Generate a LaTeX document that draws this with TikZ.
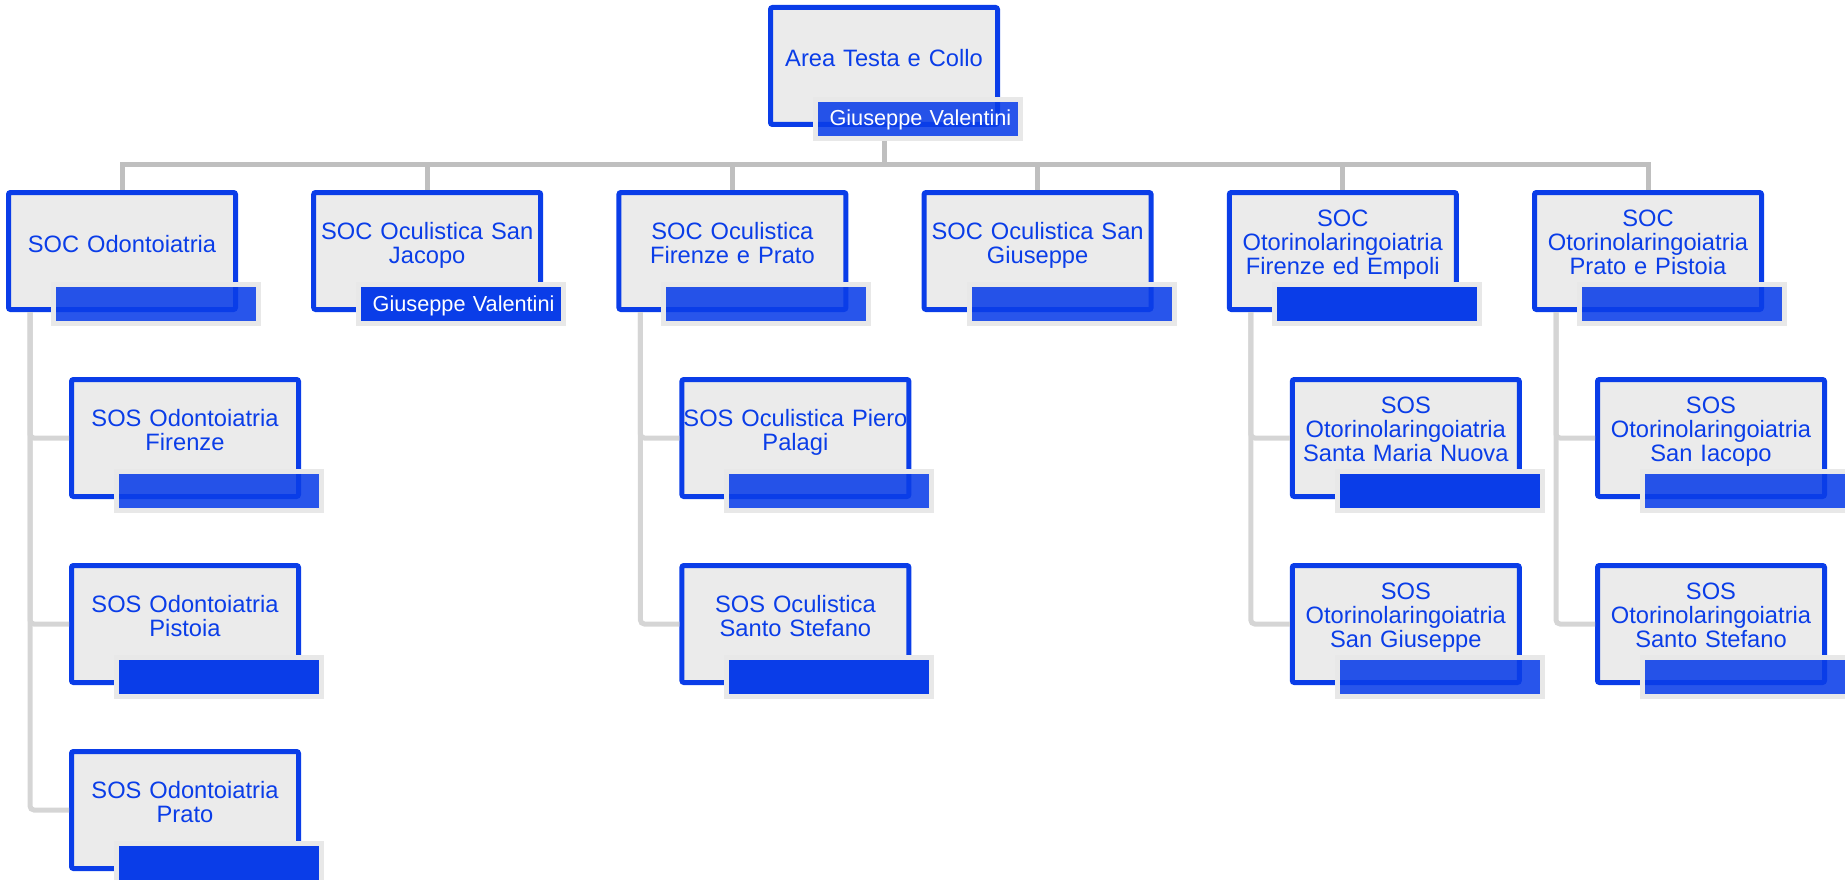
\documentclass[tikz,border=0pt]{standalone}
\usepackage{fontspec}
\setmainfont{Liberation Sans}
\definecolor{orgblue}{HTML}{0A3DE8}
\definecolor{orgfill}{HTML}{EBEBEB}
\definecolor{orgbarline}{HTML}{E8E8E8}
\definecolor{orgtopline}{HTML}{BFBFBF}
\definecolor{orgsubline}{HTML}{D5D5D5}
\newcommand\orgtextstyle{\fontsize{23.7}{24.3}\selectfont}
\newcommand\orgbarstyle{\fontsize{21.7}{24}\selectfont}
\tikzset{
  unitbox/.style={draw=orgblue, fill=orgfill, line width=5pt, rounded corners=2pt,
    minimum width=227pt, minimum height=117pt, inner sep=0pt, anchor=north west},
  unittext/.style={text=orgblue, font=\orgtextstyle, text width=232pt, align=center,
    inner sep=0pt, anchor=base},
  namebar/.style={draw=orgbarline, line width=5pt, minimum width=205pt, minimum height=39pt,
    text width=205pt, align=left, inner sep=0pt, text=white, font=\orgbarstyle,
    text height=16pt, text depth=2pt, anchor=south east},
  namebarsolid/.style={namebar, fill=orgblue},
  namebarclear/.style={namebar, fill=orgblue, fill opacity=.88, text opacity=1},
  topline/.style={draw=orgtopline, line width=5pt},
  subline/.style={draw=orgsubline, line width=5pt, rounded corners=4pt},
}
\newcommand\orgunit[5]{
  \node[unitbox] (#1) at (#2, #3) {};
  \pgfmathparse{62 - 13 * (#4 - 1)}\let\orgy\pgfmathresult
  \node[unittext] (#1-t) at ([yshift=-\orgy pt]#1.north) {#5};
}
\newcommand\orgbar[3]{
  \node[#2] (#1-n) at ([xshift=23pt, yshift=-14pt]#1.south east) {\hspace*{14pt}#3};
}
\begin{document}
\begin{tikzpicture}[x=1pt, y=-1pt]
  \useasboundingbox (0, 0) rectangle (1845, 880);
  \clip (0, 0) rectangle (1845, 880);
  \orgunit{area}{768}{5}{1}{Area Testa e Collo}
  \orgbar{area}{namebarclear}{Giuseppe Valentini}
  % SOC
  \orgunit{odo}{6}{190}{1}{SOC Odontoiatria}
  \orgbar{odo}{namebarclear}{}
  \orgunit{ocj}{311.2}{190}{2}{SOC Oculistica San\\Jacopo}
  \orgbar{ocj}{namebarsolid}{Giuseppe Valentini}
  \orgunit{ocf}{616.4}{190}{2}{SOC Oculistica\\Firenze e Prato}
  \orgbar{ocf}{namebarclear}{}
  \orgunit{ocg}{921.6}{190}{2}{SOC Oculistica San\\Giuseppe}
  \orgbar{ocg}{namebarclear}{}
  \orgunit{otf}{1226.8}{190}{3}{SOC\\Otorinolaringoiatria\\Firenze ed Empoli}
  \orgbar{otf}{namebarsolid}{}
  \orgunit{otp}{1532}{190}{3}{SOC\\Otorinolaringoiatria\\Prato e Pistoia}
  \orgbar{otp}{namebarclear}{}
  % SOS
  \orgunit{odof}{69}{377}{2}{SOS Odontoiatria\\Firenze}
  \orgbar{odof}{namebarclear}{}
  \orgunit{odoi}{69}{563}{2}{SOS Odontoiatria\\Pistoia}
  \orgbar{odoi}{namebarsolid}{}
  \orgunit{odop}{69}{749}{2}{SOS Odontoiatria\\Prato}
  \orgbar{odop}{namebarsolid}{}
  \orgunit{ocfp}{679.4}{377}{2}{SOS Oculistica Piero\\Palagi}
  \orgbar{ocfp}{namebarclear}{}
  \orgunit{ocfs}{679.4}{563}{2}{SOS Oculistica\\Santo Stefano}
  \orgbar{ocfs}{namebarsolid}{}
  \orgunit{otfm}{1289.8}{377}{3}{SOS\\Otorinolaringoiatria\\Santa Maria Nuova}
  \orgbar{otfm}{namebarsolid}{}
  \orgunit{otfg}{1289.8}{563}{3}{SOS\\Otorinolaringoiatria\\San Giuseppe}
  \orgbar{otfg}{namebarclear}{}
  \orgunit{otpi}{1595}{377}{3}{SOS\\Otorinolaringoiatria\\San Iacopo}
  \orgbar{otpi}{namebarclear}{}
  \orgunit{otps}{1595}{563}{3}{SOS\\Otorinolaringoiatria\\Santo Stefano}
  \orgbar{otps}{namebarclear}{}
  % connectors
  \coordinate (hub) at (884, 165);
  \draw[topline] (area.south |- area-n.south) -- (hub);
  \draw[topline] (hub) -| (odo.north);
  \draw[topline] (hub) -| (ocj.north);
  \draw[topline] (hub) -| (ocf.north);
  \draw[topline] (hub) -| (ocg.north);
  \draw[topline] (hub) -| (otf.north);
  \draw[topline] (hub) -| (otp.north);
  \draw[subline] (odo.south west) ++(24, 0) |- (odof.west);
  \draw[subline] (odo.south west) ++(24, 0) |- (odoi.west);
  \draw[subline] (odo.south west) ++(24, 0) |- (odop.west);
  \draw[subline] (ocf.south west) ++(24, 0) |- (ocfp.west);
  \draw[subline] (ocf.south west) ++(24, 0) |- (ocfs.west);
  \draw[subline] (otf.south west) ++(24, 0) |- (otfm.west);
  \draw[subline] (otf.south west) ++(24, 0) |- (otfg.west);
  \draw[subline] (otp.south west) ++(24, 0) |- (otpi.west);
  \draw[subline] (otp.south west) ++(24, 0) |- (otps.west);
\end{tikzpicture}
\end{document}
